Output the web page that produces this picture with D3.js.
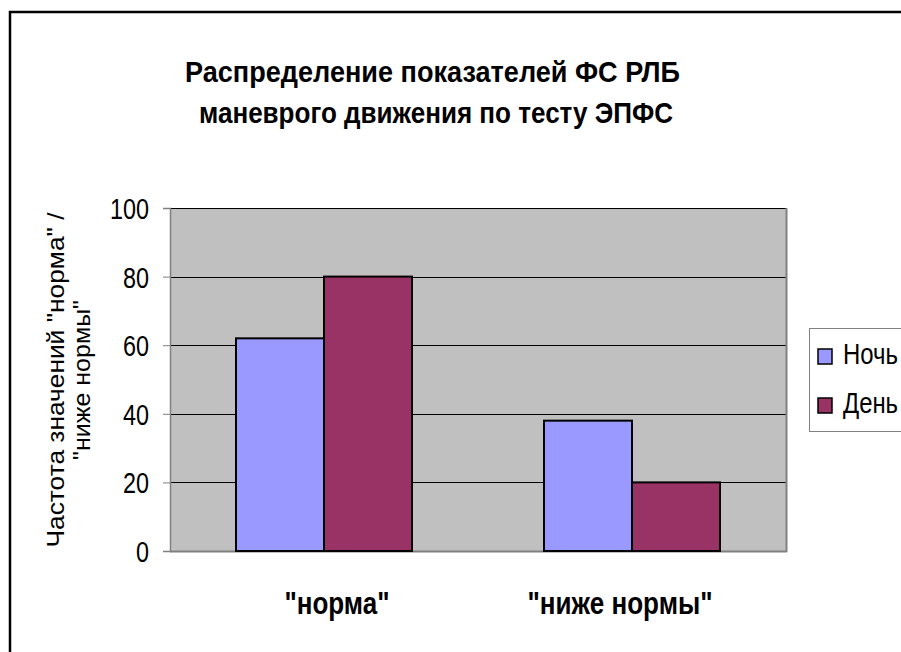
<!DOCTYPE html>
<html><head><meta charset="utf-8">
<script src="https://cdn.jsdelivr.net/npm/d3@7"></script>
<style>html,body{margin:0;padding:0;background:#fff;overflow:hidden}svg{display:block}</style>
</head><body>
<svg id="chart" width="901" height="652"></svg>
<script>
const titleLines = ["Распределение показателей ФС РЛБ", "маневрого движения по тесту ЭПФС"];
const yTitleLines = ["Частота значений \"норма\" /", "\"ниже нормы\""];
const categories = ["\"норма\"", "\"ниже нормы\""];
const seriesNames = ["Ночь", "День"];
const nightValues = [62, 38];
const dayValues = [80, 20];
const yTicks = [0, 20, 40, 60, 80, 100];

const colors = {"Ночь": "#9999ff", "День": "#993366"};
const font = "'Liberation Sans', Arial, sans-serif";

const titleWidths = [495, 474];
const yTitleWidths = [335, 160];
const catLabelWidths = [105, 185];
const catLabelShift = [13, -12];
const legendTextWidth = 55;

const svg = d3.select("#chart");
const plot = {left: 170, right: 786, top: 208, bottom: 551};

// outer frame
svg.append("rect").attr("x", 10).attr("y", 12).attr("width", 1000).attr("height", 1000)
  .attr("fill", "#fff").attr("stroke", "#000").attr("stroke-width", 2.5);

const x0 = d3.scaleBand().domain(categories).range([plot.left, plot.right]).paddingInner(0).paddingOuter(0);
const x1 = d3.scaleBand().domain(seriesNames).range([0, x0.bandwidth()]).paddingInner(0).paddingOuter(0.75);
const y = d3.scaleLinear().domain([0, 100]).range([plot.bottom, plot.top]);

// plot area
svg.append("rect").attr("x", plot.left).attr("y", plot.top)
  .attr("width", plot.right - plot.left).attr("height", plot.bottom - plot.top)
  .attr("fill", "#c0c0c0");

// gridlines
svg.append("g").selectAll("line").data(yTicks.filter(d => d > 0)).join("line")
  .attr("x1", plot.left).attr("x2", plot.right)
  .attr("y1", d => Math.round(y(d)) + 0.5).attr("y2", d => Math.round(y(d)) + 0.5)
  .attr("stroke", "#000").attr("stroke-width", 1);

// plot border right & bottom (gray)
svg.append("line").attr("x1", plot.right + 0.5).attr("x2", plot.right + 0.5)
  .attr("y1", plot.top).attr("y2", plot.bottom + 1).attr("stroke", "#808080").attr("stroke-width", 2);
svg.append("line").attr("x1", plot.left).attr("x2", plot.right + 1)
  .attr("y1", plot.bottom + 0.5).attr("y2", plot.bottom + 0.5).attr("stroke", "#808080").attr("stroke-width", 2);

// y axis
const yAxis = d3.axisLeft(y).tickValues(yTicks).tickSize(7).tickPadding(14);
const gy = svg.append("g").attr("transform", `translate(${plot.left},0)`).call(yAxis);
gy.select(".domain").attr("stroke", "#808080").attr("stroke-width", 1.5);
gy.selectAll(".tick line").attr("stroke", "#808080");
gy.selectAll(".tick text").attr("font-family", font).attr("font-size", 29).attr("fill", "#000")
  .attr("dy", "0.36em")
  .attr("textLength", d => String(d).length * 13).attr("lengthAdjust", "spacingAndGlyphs");

// bars
const seriesData = [nightValues, dayValues];
const groups = svg.append("g").selectAll("g").data(categories).join("g")
  .attr("transform", d => `translate(${x0(d)},0)`);
groups.selectAll("rect").data((c, i) => seriesNames.map((s, k) => ({s, v: seriesData[k][i]}))).join("rect")
  .attr("x", d => x1(d.s)).attr("width", x1.bandwidth())
  .attr("y", d => y(d.v)).attr("height", d => y(0) - y(d.v))
  .attr("fill", d => colors[d.s]).attr("stroke", "#000").attr("stroke-width", 2);

// x labels
svg.append("g").selectAll("text").data(categories).join("text")
  .attr("x", (d, i) => x0(d) + x0.bandwidth() / 2 + catLabelShift[i]).attr("y", 614)
  .attr("text-anchor", "middle").attr("font-family", font).attr("font-weight", "bold")
  .attr("font-size", 31)
  .attr("textLength", (d, i) => catLabelWidths[i]).attr("lengthAdjust", "spacingAndGlyphs")
  .text(d => d);

// title
svg.append("g").selectAll("text").data(titleLines).join("text")
  .attr("x", (d, i) => i === 0 ? 432.5 : 436).attr("y", (d, i) => 82 + i * 41)
  .attr("text-anchor", "middle").attr("font-family", font).attr("font-weight", "bold")
  .attr("font-size", 30)
  .attr("textLength", (d, i) => titleWidths[i]).attr("lengthAdjust", "spacingAndGlyphs")
  .text(d => d);

// y title
svg.append("g").attr("transform", "translate(0,380) rotate(-90)")
  .selectAll("text").data(yTitleLines).join("text")
  .attr("x", 0).attr("y", (d, i) => 64 + i * 26)
  .attr("text-anchor", "middle").attr("font-family", font).attr("font-size", 24)
  .attr("textLength", (d, i) => yTitleWidths[i]).attr("lengthAdjust", "spacingAndGlyphs")
  .text(d => d);

// legend
const lg = svg.append("g");
lg.append("rect").attr("x", 809.5).attr("y", 328.5).attr("width", 200).attr("height", 103)
  .attr("fill", "#fff").attr("stroke", "#808080").attr("stroke-width", 1);
const items = lg.selectAll("g").data(seriesNames).join("g")
  .attr("transform", (d, i) => `translate(818,${349 + i * 49})`);
items.append("rect").attr("width", 14).attr("height", 15)
  .attr("fill", d => colors[d]).attr("stroke", "#000").attr("stroke-width", 1.5);
items.append("text").attr("x", 25).attr("y", 15).attr("font-family", font).attr("font-size", 29)
  .attr("textLength", legendTextWidth).attr("lengthAdjust", "spacingAndGlyphs")
  .text(d => d);
</script>
</body></html>
